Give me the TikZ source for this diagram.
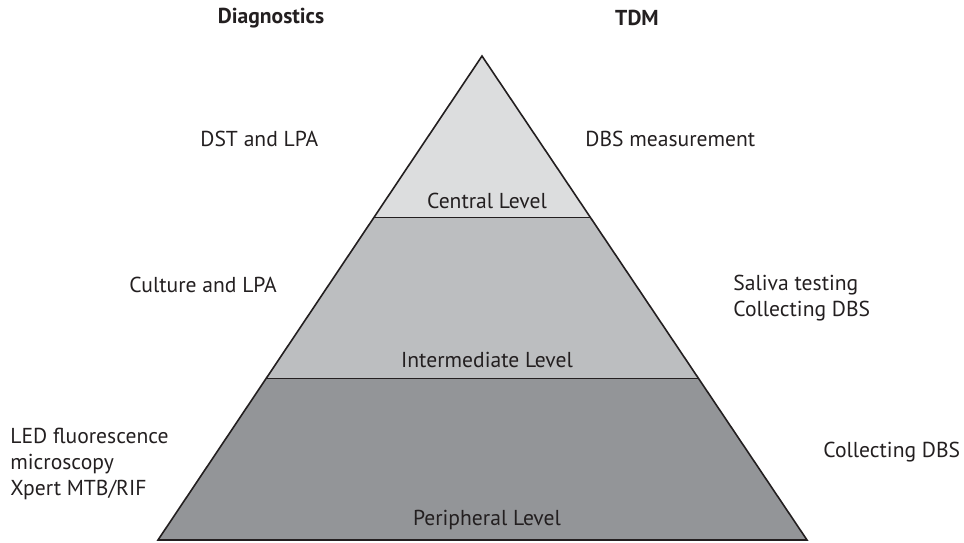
\documentclass[tikz,border=0pt]{standalone}
\usepackage{fontspec}
\setmainfont{PT Sans}
\usetikzlibrary{calc}
\definecolor{topgray}{HTML}{DCDDDE}
\definecolor{midgray}{HTML}{BCBEC0}
\definecolor{lowgray}{HTML}{939598}
\definecolor{inkgray}{HTML}{231F20}

\begin{document}
\begin{tikzpicture}[x=0.5pt,y=-0.5pt,
	every node/.style={inner sep=0pt, text=inkgray, font=\fontsize{10.8}{13}\selectfont},
	side/.style={align=left, anchor=west},
	head/.style={font=\fontsize{10.8}{13}\selectfont\bfseries},
	level/.style={anchor=center}]
	\useasboundingbox (0,0) rectangle (964,542);
	%corners of the pyramid
	\coordinate (apex) at (482,56);
	\coordinate (bl) at (158,540);\coordinate (br) at (807,540);
	%band borders at one and two thirds
	\coordinate (cl) at ($(apex)!1/3!(bl)$);\coordinate (cr) at ($(apex)!1/3!(br)$);
	\coordinate (il) at ($(apex)!2/3!(bl)$);\coordinate (ir) at ($(apex)!2/3!(br)$);
	%% the three bands
	\fill[lowgray] (bl) -- (br) -- (ir) -- (il) -- cycle;
	\fill[midgray] (il) -- (ir) -- (cr) -- (cl) -- cycle;
	\fill[topgray] (cl) -- (cr) -- (apex) -- cycle;
	\draw[inkgray, line width=0.8pt] (bl) -- (br) -- (apex) -- cycle;
	\draw[inkgray, line width=0.8pt] (cl) -- (cr) (il) -- (ir);
	%% level names inside
	\node[level] (central) at (487,201) {Central Level};
	\node[level] (inter) at (487,360) {Intermediate Level};
	\node[level] (periph) at (487,520) {Peripheral Level};
	%% column heads
	\node[head] (diag) at (271,18) {Diagnostics};
	\node[head] (tdm) at (637,18) {TDM};
	%% left column
	\node[side] (dst) at (200,139) {DST and LPA};
	\node[side] (cult) at (129,285) {Culture and LPA};
	\node[side] (led) at (10,464) {LED fluorescence\\microscopy\\Xpert MTB/RIF};
	%% right column
	\node[side] (dbs) at (585,139) {DBS measurement};
	\node[side] (saliva) at (733,298) {Saliva testing\\Collecting DBS};
	\node[side] (coll) at (823,452) {Collecting DBS};
\end{tikzpicture}
\end{document}
